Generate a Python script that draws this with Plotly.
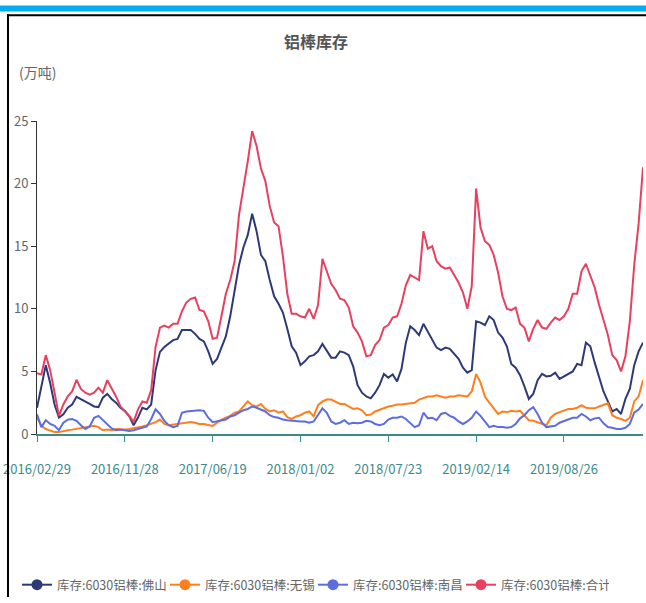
import plotly.graph_objects as go

tick_labels = ["2016/02/29", "2016/11/28", "2017/06/19", "2018/01/02",
               "2018/07/23", "2019/02/14", "2019/08/26"]
tick_index = [0, 20, 40, 60, 80, 100, 120]

foshan = [2.1, 3.8, 5.5, 4.07, 2.36, 1.31, 1.57, 2.1, 2.36, 2.97,
          2.8, 2.6, 2.4, 2.2, 2.15, 2.9, 3.2, 2.8, 2.5, 2.1,
          1.84, 1.44, 0.7, 1.31, 2.1, 1.97, 2.36, 5.1, 6.56, 6.95,
          7.2, 7.5, 7.6, 8.3, 8.3, 8.3, 8.0, 7.6, 7.4, 6.6,
          5.6, 6.0, 6.9, 7.8, 9.4, 11.4, 13.5, 14.9, 15.9, 17.6,
          16.2, 14.3, 13.8, 12.3, 11.0, 10.4, 9.7, 8.4, 7.0, 6.5,
          5.5, 5.8, 6.2, 6.3, 6.6, 7.2, 6.7, 6.1, 6.1, 6.6,
          6.5, 6.3, 5.4, 3.9, 3.3, 3.0, 2.85, 3.3, 3.9, 4.8,
          4.5, 4.75, 4.2, 5.2, 7.3, 8.6, 8.3, 7.9, 8.8, 8.2,
          7.6, 6.9, 6.7, 6.9, 6.8, 6.4, 6.0, 5.3, 4.9, 5.1,
          9.0, 8.9, 8.7, 9.4, 9.1, 8.1, 7.7, 7.0, 5.6, 5.3,
          4.7, 3.8, 2.8, 3.2, 4.3, 4.8, 4.6, 4.65, 4.9, 4.4,
          4.6, 4.8, 5.0, 5.6, 5.5, 7.3, 7.0, 5.7, 4.5, 3.4,
          2.6, 1.8, 2.0, 1.6, 2.8, 3.6, 5.5, 6.6, 7.3]

wuxi = [1.3, 0.65, 0.4, 0.3, 0.15, 0.15, 0.25, 0.3, 0.35, 0.4,
        0.45, 0.5, 0.6, 0.65, 0.55, 0.3, 0.35, 0.3, 0.4, 0.35,
        0.35, 0.4, 0.45, 0.5, 0.6, 0.7, 0.8, 0.95, 1.15, 0.8,
        0.7, 0.75, 0.8, 0.9, 0.9, 0.95, 0.9, 0.8, 0.8, 0.7,
        0.65, 0.9, 1.15, 1.3, 1.45, 1.7, 1.8, 2.2, 2.6, 2.3,
        2.2, 2.4, 2.0, 1.8, 1.9, 1.7, 1.8, 1.35, 1.2, 1.4,
        1.5, 1.7, 1.8, 1.4, 2.3, 2.6, 2.75, 2.75, 2.55, 2.4,
        2.4, 2.2, 2.0, 2.05, 1.9, 1.5, 1.55, 1.8, 1.95, 2.1,
        2.2, 2.25, 2.35, 2.35, 2.4, 2.4, 2.5, 2.75, 2.85, 3.0,
        3.0, 3.1, 3.0, 2.9, 3.0, 3.0, 3.1, 3.05, 3.0, 3.4,
        4.8, 4.1, 3.0, 2.5, 2.0, 1.6, 1.8, 1.75, 1.85, 1.8,
        1.85, 1.5, 1.1, 1.05, 0.95, 0.85, 0.7, 1.3, 1.6, 1.75,
        1.9, 2.0, 2.0, 2.1, 2.3, 2.1, 2.05, 2.05, 2.2, 2.3,
        2.45, 1.5, 1.3, 1.2, 1.05, 1.3, 2.6, 3.0, 4.3]

nanchang = [1.57, 0.55, 1.1, 0.8, 0.65, 0.3, 0.9, 1.15, 1.2, 1.05,
            0.7, 0.4, 0.6, 1.3, 1.45, 1.1, 0.8, 0.45, 0.3, 0.35,
            0.3, 0.25, 0.3, 0.4, 0.5, 0.6, 1.2, 1.97, 1.6, 1.05,
            0.7, 0.55, 0.65, 1.7, 1.8, 1.85, 1.9, 1.9, 1.85, 1.3,
            0.95, 1.0, 1.05, 1.15, 1.4, 1.5, 1.7, 1.9, 2.0, 2.2,
            2.1, 1.95, 1.8, 1.5, 1.35, 1.3, 1.15, 1.1, 1.05, 1.05,
            1.0, 1.0, 0.9, 1.0, 1.5, 2.05, 1.7, 1.0, 0.8, 0.9,
            1.1, 0.8, 0.9, 0.85, 0.9, 1.05, 1.0, 0.8, 0.7, 0.8,
            1.15, 1.3, 1.3, 1.4, 1.2, 0.9, 0.55, 0.7, 1.7, 1.25,
            1.3, 1.1, 1.6, 1.7, 1.45, 1.3, 1.0, 0.8, 1.0, 1.3,
            1.8, 1.45, 0.95, 0.55, 0.65, 0.55, 0.55, 0.5, 0.55, 0.8,
            1.25, 1.5, 1.9, 2.15, 1.6, 0.9, 0.55, 0.6, 0.65, 0.9,
            1.05, 1.2, 1.3, 1.3, 1.6, 1.4, 1.1, 1.25, 1.3, 0.85,
            0.55, 0.5, 0.4, 0.4, 0.5, 0.8, 1.7, 1.95, 2.4]

total = [4.86, 4.75, 6.3, 5.1, 3.3, 1.44, 2.36, 3.0, 3.4, 4.33,
         3.6, 3.3, 3.15, 3.3, 3.7, 3.3, 4.3, 3.7, 3.0, 2.2,
         1.84, 1.44, 0.97, 1.97, 2.6, 2.5, 3.5, 6.95, 8.5, 8.66,
         8.5, 8.8, 8.8, 9.8, 10.5, 10.8, 10.9, 9.9, 9.8, 9.0,
         7.6, 7.7, 9.4, 11.2, 12.3, 13.8, 17.5, 19.6, 21.8, 24.2,
         23.0, 21.2, 20.2, 18.2, 16.9, 16.6, 14.2, 11.2, 9.6, 9.6,
         9.4, 9.3, 10.0, 9.2, 10.3, 14.0, 13.0, 12.0, 11.5, 10.8,
         10.7, 10.1, 8.6, 8.1, 7.4, 6.2, 6.3, 7.1, 7.5, 8.5,
         8.7, 9.3, 9.4, 10.4, 11.9, 12.7, 12.5, 12.3, 16.2, 14.8,
         15.0, 13.8, 13.4, 13.2, 13.3, 12.7, 12.1, 11.3, 10.0, 11.8,
         19.6, 16.5, 15.4, 15.1, 14.3, 12.9, 11.0, 10.0, 9.9, 10.1,
         8.8, 8.5, 7.4, 8.4, 9.1, 8.5, 8.4, 8.9, 9.3, 9.1,
         9.4, 10.0, 11.2, 11.2, 13.0, 13.6, 12.6, 11.7, 10.3, 9.0,
         7.9, 6.3, 5.9, 5.0, 6.2, 9.0, 13.5, 16.8, 21.3]

series_names = ["库存:6030铝棒:佛山", "库存:6030铝棒:无锡",
                "库存:6030铝棒:南昌", "库存:6030铝棒:合计"]
series_values = [foshan, wuxi, nanchang, total]
colors = ["#2E3A78", "#FF7F1F", "#5B6DE0", "#E8405F"]

x_idx = list(range(len(total)))

fig = go.Figure()
for name, vals, c in zip(series_names, series_values, colors):
    fig.add_trace(go.Scatter(x=x_idx, y=vals, mode="lines", name=name,
                             line=dict(color=c, width=2), showlegend=False))
for name, c in zip(series_names, colors):
    fig.add_trace(go.Scatter(x=[None], y=[None], mode="lines+markers", name=name,
                             line=dict(color=c, width=2),
                             marker=dict(color=c, size=11), showlegend=True))

W, H = 646, 603
L, R, T, B = 37, 3, 121, 165
pw, ph = W - L - R, H - T - B


def px(x):
    return (x - L) / pw


def py(y):
    return (H - B - y) / ph


shapes = [
    dict(type="rect", xref="paper", yref="paper", x0=px(0), x1=px(W), y0=py(10), y1=py(4),
         fillcolor="#00AEEF", line=dict(width=0), layer="above"),
    dict(type="rect", xref="paper", yref="paper", x0=px(7), x1=px(W), y0=py(15), y1=py(13),
         fillcolor="#000000", line=dict(width=0), layer="above"),
    dict(type="rect", xref="paper", yref="paper", x0=px(7), x1=px(9), y0=py(H), y1=py(13),
         fillcolor="#000000", line=dict(width=0), layer="above"),
]

font_family = "Noto Sans CJK SC, Noto Sans, sans-serif"

fig.update_layout(
    width=W, height=H,
    margin=dict(l=L, r=R, t=T, b=B, pad=0),
    paper_bgcolor="white", plot_bgcolor="white",
    font=dict(family=font_family, size=13, color="#666666"),
    title=dict(text="<b>铝棒库存</b>", x=px(316), xref="paper", xanchor="center",
               y=1 - 42 / H, yanchor="middle", yref="container",
               font=dict(size=16, color="#555555")),
    shapes=shapes,
    annotations=[dict(text="(万吨)", xref="paper", yref="paper", x=px(37), y=py(71),
                      xanchor="center", yanchor="middle", showarrow=False,
                      font=dict(size=14, color="#666666"))],
    xaxis=dict(range=[0, len(total) - 1], tickvals=tick_index, ticktext=tick_labels,
               showline=True, linecolor="#3A8C8C", linewidth=1.5,
               ticks="outside", ticklen=6, tickcolor="#3A8C8C", tickwidth=1,
               tickfont=dict(size=13, color="#3A8C8C"), ticklabelstandoff=17,
               showgrid=False, zeroline=False),
    yaxis=dict(range=[0, 25], tickvals=[0, 5, 10, 15, 20, 25],
               showline=True, linecolor="#333333", linewidth=1,
               ticks="outside", ticklen=5, tickcolor="#333333",
               tickfont=dict(size=13, color="#666666"),
               showgrid=False, zeroline=False),
    legend=dict(orientation="h", x=px(17), xanchor="left", y=py(591), yanchor="middle",
                font=dict(size=12.5, color="#666666"),
                entrywidth=103, entrywidthmode="pixels", itemwidth=30,
                bgcolor="rgba(0,0,0,0)"),
    showlegend=True,
)

fig.write_html("out.html", config={"displayModeBar": False},
               post_script="document.body.style.margin='0';")
